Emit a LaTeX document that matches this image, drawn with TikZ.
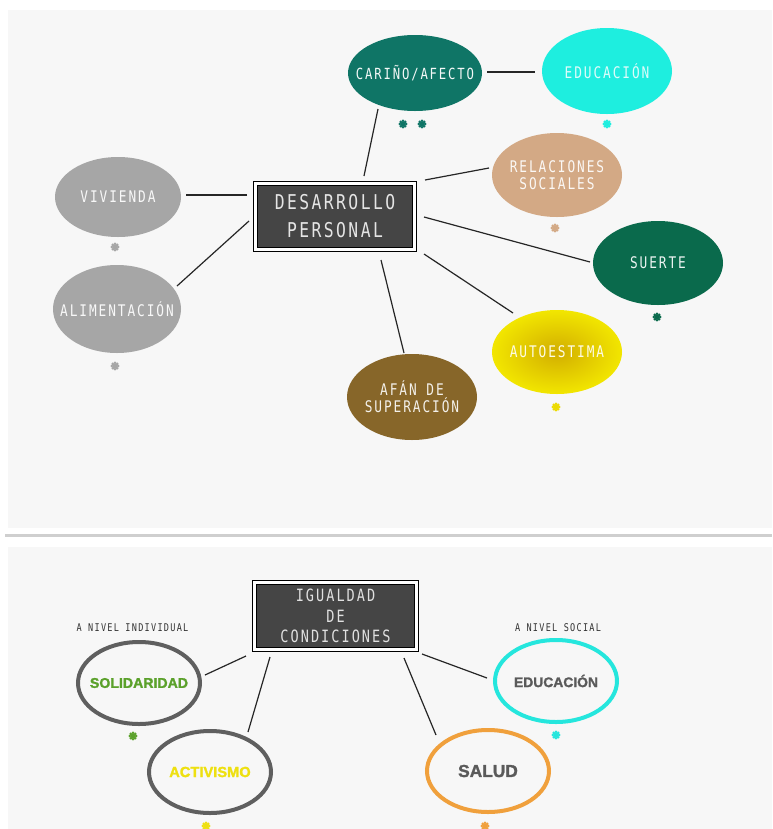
\documentclass[tikz,border=0pt]{standalone}
\usepackage{fontspec}
\newfontfamily\monof[FakeStretch=0.8,LetterSpace=12]{DejaVu Sans Mono}
\newfontfamily\boldf[BoldFeatures={FakeBold=1.6}]{Liberation Sans}
\usetikzlibrary{shapes.geometric,calc}
\definecolor{panel}{HTML}{F7F7F7}
\definecolor{sepc}{HTML}{CFCFCF}
\definecolor{boxc}{HTML}{454545}
\definecolor{caric}{HTML}{0F7566}
\definecolor{educ}{HTML}{1EEEDF}
\definecolor{relc}{HTML}{D3A985}
\definecolor{suertec}{HTML}{0A6A4C}
\definecolor{grisc}{HTML}{A6A6A6}
\definecolor{autoin}{HTML}{D2AE00}
\definecolor{autoout}{HTML}{F2E600}
\definecolor{afanc}{HTML}{876629}
\definecolor{ringc}{HTML}{5F5F5F}
\definecolor{solc}{HTML}{5BA12B}
\definecolor{actc}{HTML}{EEE010}
\definecolor{edu2c}{HTML}{25E6DD}
\definecolor{saludc}{HTML}{F0A03C}
\definecolor{txtg}{HTML}{5A5A5A}
\begin{document}
\begin{tikzpicture}[x=0.75pt,y=-0.75pt,
  conn/.style={draw=black!85, line width=0.9pt},
  bigbox/.style={rectangle, draw=black, double=white, line width=0.9pt, double distance=2.2pt, fill=boxc, inner sep=0pt, text=black!10, align=center},
  bubble/.style={ellipse, inner sep=0pt, minimum width=97.5pt, minimum height=63pt},
  btext/.style={inner sep=0pt, align=center, font=\monof\fontsize{12}{12.6}\selectfont},
  ring/.style={ellipse, inner sep=0pt, line width=3pt, minimum width=91.5pt, minimum height=61.5pt, fill=panel},
  rtext/.style={inner sep=0pt, font=\boldf\bfseries\fontsize{10.6}{12}\selectfont},
  small/.style={font=\monof\fontsize{8}{9}\selectfont, text=black!80, inner sep=0pt},
  flor/.pic={\fill (0,0) circle (2.4); \foreach \a in {0,45,...,315} \fill (\a:3.1) circle (1.5);}
]
\useasboundingbox (0,0) rectangle (772,829);
\fill[white] (0,0) rectangle (772,829);
\fill[panel] (8,10) rectangle (772,528);
\fill[sepc] (5,534) rectangle (772,537);
\fill[panel] (8,547) rectangle (772,829);

% ---------- top panel ----------
\node[bigbox, minimum width=119pt, minimum height=49.5pt,
      font=\monof\fontsize{15.3}{21}\selectfont] (dp) at (335,216.5) {DESARROLLO\\PERSONAL};

\node[bubble, fill=caric, minimum width=100.5pt, minimum height=57pt] (cari) at (415,73) {};
\node[btext, text=white!95!caric, font=\monof\fontsize{11.5}{12}\selectfont] (cari-t) at (cari) {CARIÑO/AFECTO};
\node[bubble, fill=educ, minimum height=64.5pt] (edu) at (607,71) {};
\node[btext, text=white!85!educ] (edu-t) at (edu) {EDUCACIÓN};
\node[bubble, fill=relc] (rel) at (557,175) {};
\node[btext, text=white!92!relc] (rel-t) at (rel) {RELACIONES\\SOCIALES};
\node[bubble, fill=suertec] (suerte) at (658,263) {};
\node[btext, text=white!92!suertec] (suerte-t) at (suerte) {SUERTE};
\node[bubble, fill=grisc, minimum width=94.5pt, minimum height=60pt] (viv) at (118,197) {};
\node[btext, text=white!92!grisc] (viv-t) at (viv) {VIVIENDA};
\node[bubble, fill=grisc, minimum width=96pt, minimum height=66pt] (alim) at (117,309) {};
\node[btext, text=white!92!grisc] (alim-t) at (alim) {ALIMENTACIÓN};
\node[bubble, inner color=autoin, outer color=autoout] (auto) at (557,352) {};
\node[btext, text=white!90!autoout] (auto-t) at (auto) {AUTOESTIMA};
\node[bubble, fill=afanc, minimum height=64.5pt] (afan) at (412,397) {};
\node[btext, text=white!90!afanc, font=\monof\fontsize{12}{13}\selectfont] (afan-t) at (afan) {AFÁN DE\\SUPERACIÓN};

\draw[conn] ($(dp)+(29,-40.5)$) -- ($(cari)+(-37,36)$);
\draw[conn] ($(cari)+(72,-1)$) -- ($(edu)+(-72,1)$);
\draw[conn] ($(dp)+(90,-36.5)$) -- ($(rel)+(-68,-7)$);
\draw[conn] ($(dp)+(89,0.5)$) -- ($(suerte)+(-68,-1)$);
\draw[conn] ($(dp)+(89,37.5)$) -- ($(auto)+(-44,-39)$);
\draw[conn] ($(dp)+(46,43.5)$) -- ($(afan)+(-8,-44)$);
\draw[conn] ($(dp)+(-88,-21.5)$) -- ($(viv)+(68,-2)$);
\draw[conn] ($(dp)+(-86,4.5)$) -- ($(alim)+(60,-23)$);

\pic[caric] at (403,124) {flor};
\pic[caric] at (422,124) {flor};
\pic[educ] at (607,124) {flor};
\pic[relc] at (555,228) {flor};
\pic[suertec] at (657,317) {flor};
\pic[grisc] at (115,247) {flor};
\pic[grisc] at (115,366) {flor};
\pic[autoout!80!autoin] at (556,407) {flor};

% ---------- bottom panel ----------
\node[bigbox, minimum width=121.25pt, minimum height=50pt,
      font=\monof\fontsize{12.7}{15.4}\selectfont, text=black!12] (ig) at (335.5,616) {IGUALDAD\\DE\\CONDICIONES};

\node[small] (lind) at (132.5,628) {A NIVEL INDIVIDUAL};
\node[small] (lsoc) at (558,628) {A NIVEL SOCIAL};

\node[ring, draw=ringc] (sol) at (139,683) {};
\node[rtext, text=solc] (sol-t) at (sol) {SOLIDARIDAD};
\node[ring, draw=ringc] (act) at (210,772) {};
\node[rtext, text=actc, font=\boldf\bfseries\fontsize{11}{12}\selectfont] (act-t) at (act) {ACTIVISMO};
\node[ring, draw=edu2c] (edu2) at (556,681) {};
\node[rtext, text=txtg, font=\boldf\bfseries\fontsize{10.4}{12}\selectfont] (edu2-t) at (edu2) {EDUCACIÓN};
\node[ring, draw=saludc] (salud) at (488,771) {};
\node[rtext, text=txtg, font=\boldf\bfseries\fontsize{13}{14}\selectfont] (salud-t) at (salud) {SALUD};

\draw[conn] ($(ig)+(-89.5,40)$) -- ($(sol)+(66,-8)$);
\draw[conn] ($(ig)+(-65.5,41)$) -- ($(act)+(38,-40)$);
\draw[conn] ($(ig)+(68.5,42)$) -- ($(salud)+(-52,-36)$);
\draw[conn] ($(ig)+(86.5,38)$) -- ($(edu2)+(-69,-3)$);

\pic[solc] at (133,736) {flor};
\pic[actc] at (206,826) {flor};
\pic[edu2c] at (556,735) {flor};
\pic[saludc] at (485,826) {flor};
\end{tikzpicture}
\end{document}
